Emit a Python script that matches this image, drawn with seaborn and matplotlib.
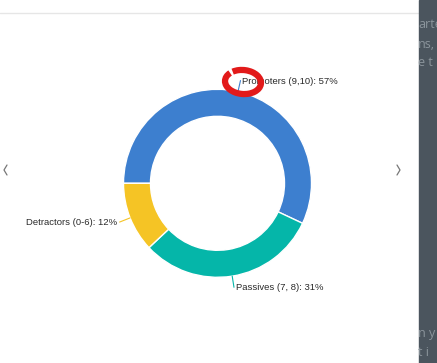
import matplotlib.pyplot as plt
import seaborn as sns
import numpy as np
from matplotlib.patches import Rectangle, Arc

sns.set_style("white")
plt.rcParams['font.family'] = ['Liberation Sans', 'DejaVu Sans']

# data
categories = ['Promoters (9,10)', 'Passives (7, 8)', 'Detractors (0-6)']
shares = [57, 31, 12]
colors = ['#3d7fcf', '#05b6a9', '#f5c425']

W, H = 437, 363
fig = plt.figure(figsize=(W / 100, H / 100), dpi=100)
ax = fig.add_axes([0, 0, 1, 1])

# pie center / radius in screen pixels (y measured from top)
cx, cy, R = 217.5, 183.3, 94


def Y(y):
    return H - y


wedges, _ = ax.pie(shares, colors=colors, startangle=180, counterclock=False,
                   center=(cx, Y(cy)), radius=R,
                   wedgeprops=dict(width=27, edgecolor='white', linewidth=1.0))

# leader lines + labels
for w, cat, val in zip(wedges, categories, shares):
    ang = np.deg2rad((w.theta1 + w.theta2) / 2)
    x0, y0 = cx + R * np.cos(ang), Y(cy) + R * np.sin(ang)
    x1, y1 = cx + 1.12 * R * np.cos(ang), Y(cy) + 1.12 * R * np.sin(ang)
    ax.plot([x0, x1], [y0, y1], color=w.get_facecolor(), lw=0.8)
    ha = 'left' if np.cos(ang) >= 0 else 'right'
    dx = 2 if ha == 'left' else -2
    ax.text(x1 + dx, y1 - 0.5, f'{cat}: {val}%', ha=ha, va='center',
            fontsize=6.8, color='#2a2a2a')

# page chrome around the chart
ax.plot([0, 419], [Y(13), Y(13)], color='#e6e6e6', lw=1)
panel = Rectangle((419, 0), W - 419, H, color='#4b555e', zorder=5)
ax.add_patch(panel)
for ty, t in [(25, 'arte'), (45, 'ns,'), (62, 'e t'), (333, 'n y'), (352, 't i')]:
    txt = ax.text(418, Y(ty), t, ha='left', va='center', fontsize=9,
                  color='#8c959c', zorder=6, family=['Open Sans', 'DejaVu Sans'])
    txt.set_clip_path(panel)
ax.plot([7, 4, 7], [Y(165), Y(170), Y(175)], color='#777777', lw=0.9)
ax.plot([397, 400, 397], [Y(165), Y(170), Y(175)], color='#777777', lw=0.9)

# red hand-drawn marker
ax.add_patch(Arc((243, Y(82)), 36, 24, angle=-5, theta1=150, theta2=500,
                 color='#e21a1a', lw=4.5, zorder=7))

ax.set_xlim(0, W)
ax.set_ylim(0, H)
ax.set_aspect('equal')
ax.axis('off')

plt.savefig('out.png', dpi=100)
plt.close()
